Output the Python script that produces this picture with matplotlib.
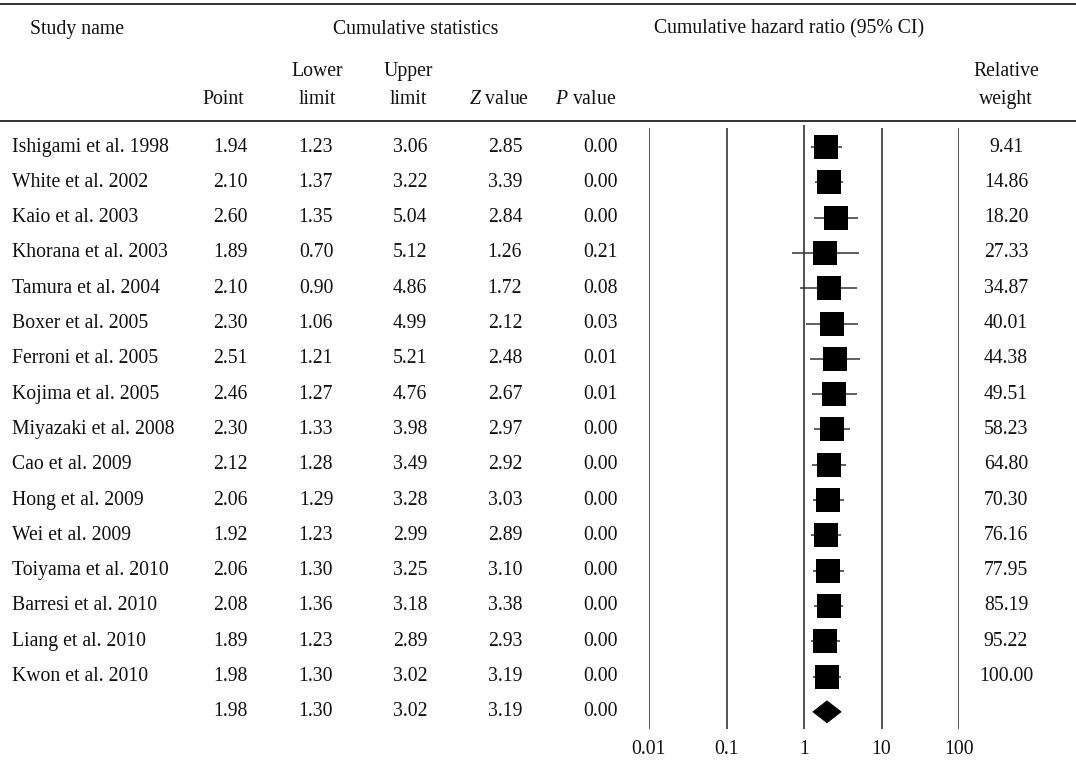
import matplotlib
matplotlib.use("Agg")
import matplotlib.pyplot as plt
from matplotlib.patches import Polygon

plt.rcParams['font.family'] = ['Liberation Serif', 'DejaVu Serif']
plt.rcParams['mathtext.fontset'] = 'custom'
plt.rcParams['mathtext.rm'] = 'Liberation Serif'
plt.rcParams['mathtext.it'] = 'Liberation Serif:italic'

studies = ["Ishigami et al. 1998", "White et al. 2002", "Kaio et al. 2003",
           "Khorana et al. 2003", "Tamura et al. 2004", "Boxer et al. 2005",
           "Ferroni et al. 2005", "Kojima et al. 2005", "Miyazaki et al. 2008",
           "Cao et al. 2009", "Hong et al. 2009", "Wei et al. 2009",
           "Toiyama et al. 2010", "Barresi et al. 2010", "Liang et al. 2010",
           "Kwon et al. 2010"]
point = [1.94, 2.10, 2.60, 1.89, 2.10, 2.30, 2.51, 2.46, 2.30, 2.12, 2.06, 1.92,
         2.06, 2.08, 1.89, 1.98]
lower = [1.23, 1.37, 1.35, 0.70, 0.90, 1.06, 1.21, 1.27, 1.33, 1.28, 1.29, 1.23,
         1.30, 1.36, 1.23, 1.30]
upper = [3.06, 3.22, 5.04, 5.12, 4.86, 4.99, 5.21, 4.76, 3.98, 3.49, 3.28, 2.99,
         3.25, 3.18, 2.89, 3.02]
zval = [2.85, 3.39, 2.84, 1.26, 1.72, 2.12, 2.48, 2.67, 2.97, 2.92, 3.03, 2.89,
        3.10, 3.38, 2.93, 3.19]
pval = [0.00, 0.00, 0.00, 0.21, 0.08, 0.03, 0.01, 0.01, 0.00, 0.00, 0.00, 0.00,
        0.00, 0.00, 0.00, 0.00]
weight = [9.41, 14.86, 18.20, 27.33, 34.87, 40.01, 44.38, 49.51, 58.23, 64.80,
          70.30, 76.16, 77.95, 85.19, 95.22, 100.00]
summary = {"point": 1.98, "lower": 1.30, "upper": 3.02, "z": 3.19, "p": 0.00}
tick_vals = [0.01, 0.1, 1, 10, 100]
tick_labels = ["0.01", "0.1", "1", "10", "100"]

W, H = 1076, 765
fig = plt.figure(figsize=(W / 100, H / 100), dpi=100)

# table axes in pixel coordinates
tab = fig.add_axes([0, 0, 1, 1])
tab.set_xlim(0, W)
tab.set_ylim(H, 0)
tab.axis("off")

# forest axes: log scale from 0.01 (x=649) to 100 (x=959)
fx0, fx1 = 649, 959
fa = fig.add_axes([fx0 / W, 0, (fx1 - fx0) / W, 1])
fa.set_xscale("log")
fa.set_xlim(0.01, 100)
fa.set_ylim(H, 0)
fa.axis("off")

fs = 14.2
txtc = "#111111"

# rules
tab.plot([0, W], [4, 4], color="#333333", lw=1.4)
tab.plot([0, W], [121, 121], color="#333333", lw=1.4)

# headers
tab.text(30, 29, "Study name", fontsize=fs, ha="left", va="center", color=txtc)
tab.text(416, 29, "Cumulative statistics", fontsize=fs, ha="center", va="center", color=txtc)
tab.text(789, 29, "Cumulative hazard ratio (95% CI)", fontsize=fs, ha="center", va="center", color=txtc)
col_x = {"point": 230, "lower": 316, "upper": 410, "z": 505, "p": 600, "w": 1006}
hdr_x = {"point": 223, "lower": 317, "upper": 408, "z": 499, "p": 586, "w": 1006}
y_h1, y_h2 = 71, 99
tab.text(hdr_x["point"], y_h2, "Point", fontsize=fs, ha="center", va="center", color=txtc)
tab.text(hdr_x["lower"], y_h1, "Lower", fontsize=fs, ha="center", va="center", color=txtc)
tab.text(hdr_x["lower"], y_h2, "limit", fontsize=fs, ha="center", va="center", color=txtc)
tab.text(hdr_x["upper"], y_h1, "Upper", fontsize=fs, ha="center", va="center", color=txtc)
tab.text(hdr_x["upper"], y_h2, "limit", fontsize=fs, ha="center", va="center", color=txtc)
tab.text(hdr_x["z"], y_h2, "$Z$ value", fontsize=fs, ha="center", va="center", color=txtc)
tab.text(hdr_x["p"], y_h2, "$P$ value", fontsize=fs, ha="center", va="center", color=txtc)
tab.text(hdr_x["w"], y_h1, "Relative", fontsize=fs, ha="center", va="center", color=txtc)
tab.text(hdr_x["w"], y_h2, "weight", fontsize=fs, ha="center", va="center", color=txtc)

y0, dy = 147, 35.3
ys = [y0 + i * dy for i in range(len(studies))]
ysum = y0 + len(studies) * dy

for i, name in enumerate(studies):
    y = ys[i]
    tab.text(12, y, name, fontsize=fs, ha="left", va="center", color=txtc)
    tab.text(col_x["point"], y, f"{point[i]:.2f}", fontsize=fs, ha="center", va="center", color=txtc)
    tab.text(col_x["lower"], y, f"{lower[i]:.2f}", fontsize=fs, ha="center", va="center", color=txtc)
    tab.text(col_x["upper"], y, f"{upper[i]:.2f}", fontsize=fs, ha="center", va="center", color=txtc)
    tab.text(col_x["z"], y, f"{zval[i]:.2f}", fontsize=fs, ha="center", va="center", color=txtc)
    tab.text(col_x["p"], y, f"{pval[i]:.2f}", fontsize=fs, ha="center", va="center", color=txtc)
    tab.text(col_x["w"], y, f"{weight[i]:.2f}", fontsize=fs, ha="center", va="center", color=txtc)

# summary row numbers
for key, val in [("point", summary["point"]), ("lower", summary["lower"]),
                 ("upper", summary["upper"]), ("z", summary["z"]), ("p", summary["p"])]:
    tab.text(col_x[key], ysum, f"{val:.2f}", fontsize=fs, ha="center", va="center", color=txtc)

# vertical reference lines
for v in tick_vals:
    top = 125 if v == 1 else 128
    fa.vlines(v, top, 729, color="#444444", lw=1.3)

# tick labels
for v, lab in zip(tick_vals, tick_labels):
    fa.text(v, 750, lab, fontsize=fs, ha="center", va="center", color=txtc)

# CIs and squares
for i in range(len(studies)):
    fa.hlines(ys[i], lower[i], upper[i], color="#333333", lw=1.1, zorder=2)
    fa.plot(point[i], ys[i], marker="s", ms=16.8, color="black", mec="black", mew=0, zorder=3)

# summary diamond
hh = 11
diamond = Polygon([(summary["lower"], ysum), (summary["point"], ysum - hh),
                   (summary["upper"], ysum), (summary["point"], ysum + hh)],
                  closed=True, facecolor="black", edgecolor="black", lw=0.5, zorder=3)
fa.add_patch(diamond)

fig.savefig("out.png", dpi=100)
